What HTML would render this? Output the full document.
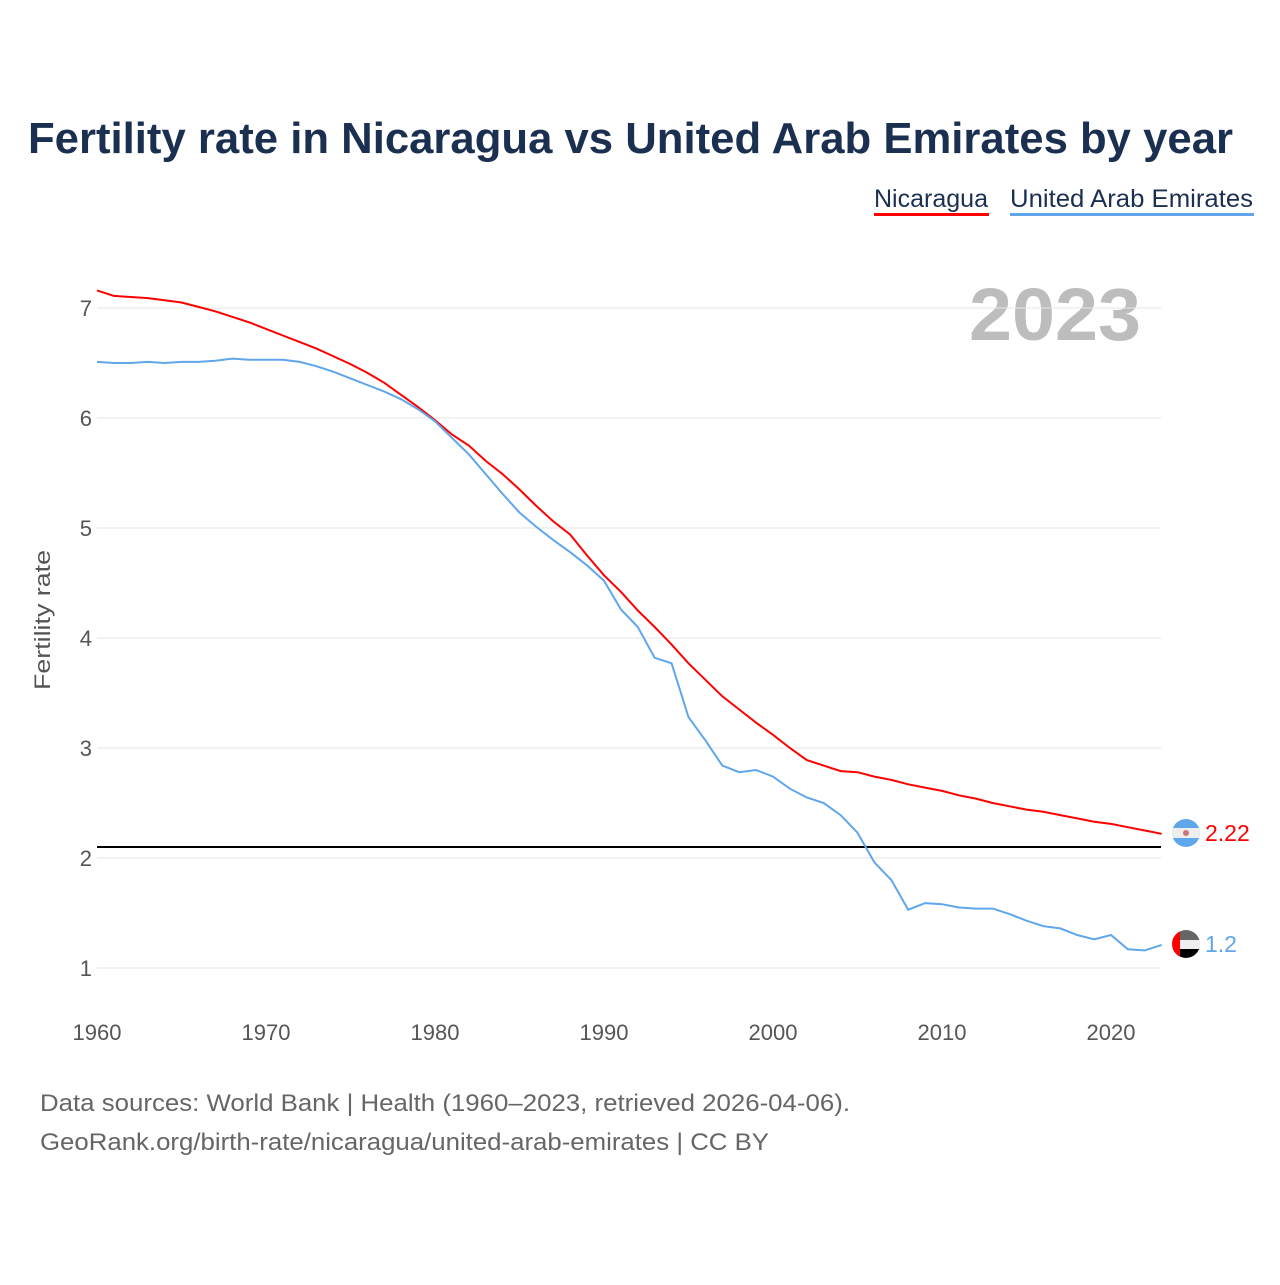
<!DOCTYPE html>
<html><head><meta charset="utf-8"><style>
body{margin:0;background:#fff;width:1280px;height:1280px;overflow:hidden;font-family:"Liberation Sans",sans-serif}
</style></head><body>
<svg id="chart" width="1280" height="1280" xmlns="http://www.w3.org/2000/svg" font-family="Liberation Sans, sans-serif">
<defs><clipPath id="c1"><circle cx="1186" cy="833" r="14"/></clipPath><clipPath id="c2"><circle cx="1186" cy="944" r="14"/></clipPath></defs>
<text x="28" y="153" font-size="44" font-weight="bold" fill="#1b3050" textLength="1205" lengthAdjust="spacingAndGlyphs">Fertility rate in Nicaragua vs United Arab Emirates by year</text>
<g><text x="874" y="207" font-size="25" fill="#1b3050" textLength="114" lengthAdjust="spacingAndGlyphs">Nicaragua</text><rect x="874" y="213" width="115" height="3" fill="#ff0000"/></g>
<g><text x="1010" y="207" font-size="25" fill="#1b3050" textLength="243" lengthAdjust="spacingAndGlyphs">United Arab Emirates</text><rect x="1010" y="213" width="244" height="3" fill="#5fa6ea"/></g>
<text x="969" y="340" font-size="74" font-weight="bold" fill="#bdbdbd" textLength="172" lengthAdjust="spacingAndGlyphs">2023</text>
<text transform="translate(50,620) rotate(-90)" font-size="22" fill="#555" text-anchor="middle" textLength="140" lengthAdjust="spacingAndGlyphs">Fertility rate</text>
<g id="grid"></g><g id="marks"></g>
<text x="40" y="1111" font-size="24" fill="#666" textLength="810" lengthAdjust="spacingAndGlyphs">Data sources: World Bank | Health (1960–2023, retrieved 2026-04-06).</text>
<text x="40" y="1150" font-size="24" fill="#666" textLength="729" lengthAdjust="spacingAndGlyphs">GeoRank.org/birth-rate/nicaragua/united-arab-emirates | CC BY</text>
</svg>
<script>
const years=[];for(let y=1960;y<=2023;y++)years.push(y);
const nicaragua=[7.16,7.11,7.10,7.09,7.07,7.05,7.01,6.97,6.92,6.87,6.81,6.75,6.69,6.63,6.56,6.49,6.41,6.32,6.21,6.10,5.98,5.85,5.75,5.61,5.49,5.35,5.20,5.06,4.94,4.75,4.57,4.42,4.25,4.10,3.94,3.77,3.62,3.47,3.35,3.23,3.12,3.00,2.89,2.84,2.79,2.78,2.74,2.71,2.67,2.64,2.61,2.57,2.54,2.50,2.47,2.44,2.42,2.39,2.36,2.33,2.31,2.28,2.25,2.22];
const uae=[6.51,6.50,6.50,6.51,6.50,6.51,6.51,6.52,6.54,6.53,6.53,6.53,6.51,6.47,6.42,6.36,6.30,6.24,6.17,6.08,5.97,5.82,5.67,5.49,5.31,5.14,5.01,4.89,4.78,4.66,4.52,4.26,4.10,3.82,3.77,3.28,3.07,2.84,2.78,2.80,2.74,2.63,2.55,2.50,2.39,2.23,1.96,1.80,1.53,1.59,1.58,1.55,1.54,1.54,1.49,1.43,1.38,1.36,1.30,1.26,1.30,1.17,1.16,1.21];
const yTicks=[1,2,3,4,5,6,7];
const xTicks=[1960,1970,1980,1990,2000,2010,2020];
const replacement=2.1;
const NS="http://www.w3.org/2000/svg";
const X=v=>97+(v-1960)*(1111-97)/60;
const Y=v=>968-(v-1)*110;
const grid=document.getElementById('grid'),marks=document.getElementById('marks');
function mk(tag,attrs,parent){const e=document.createElementNS(NS,tag);for(const k in attrs)e.setAttribute(k,attrs[k]);parent.appendChild(e);return e;}
yTicks.forEach(t=>{
  const l=mk('line',{x1:97,x2:1161,y1:Y(t),y2:Y(t),stroke:'#e6e6e6','stroke-width':1},grid);
  
  
  const tx=mk('text',{x:92,y:Y(t)+8,'font-size':22,fill:'#555','text-anchor':'end'},grid);tx.textContent=t;
  
  
});
xTicks.forEach(t=>{
  const tx=mk('text',{x:X(t),y:1040,'font-size':22,fill:'#555','text-anchor':'middle'},grid);tx.textContent=t;
  
  
});
const rl=mk('line',{x1:97,x2:1161,y1:Y(replacement),y2:Y(replacement),stroke:'#000','stroke-width':2},marks);


function series(data,color,name){
  const d=data.map((v,i)=>(i?'L':'M')+X(years[i]).toFixed(1)+' '+Y(v).toFixed(1)).join(' ');
  const p=mk('path',{d:d,fill:'none',stroke:color,'stroke-width':2},marks);
  
  
}
series(nicaragua,'#ff0000','line-nicaragua');
series(uae,'#5fa6ea','line-uae');
const nx=1186,ny=833;
const g1=mk('g',{'clip-path':'url(#c1)'},marks);


mk('rect',{x:nx-14,y:ny-14,width:28,height:28,fill:'#5fa6ea'},g1);
mk('rect',{x:nx-14,y:ny-5,width:28,height:10,fill:'#eee'},g1);
mk('circle',{cx:nx,cy:ny,r:3,fill:'#c77'},g1);
const t1=mk('text',{x:1205,y:ny+8,'font-size':23,fill:'#ff0000'},marks);t1.textContent=nicaragua[63].toFixed(2);


const ux=1186,uy=944;
const g2=mk('g',{'clip-path':'url(#c2)'},marks);


mk('rect',{x:ux-14,y:uy-14,width:28,height:10,fill:'#666'},g2);
mk('rect',{x:ux-14,y:uy-4,width:28,height:9,fill:'#eee'},g2);
mk('rect',{x:ux-14,y:uy+5,width:28,height:10,fill:'#000'},g2);
mk('rect',{x:ux-14,y:uy-14,width:8,height:28,fill:'#ff0000'},g2);
const t2=mk('text',{x:1205,y:uy+8,'font-size':23,fill:'#5fa6ea'},marks);t2.textContent=uae[63].toFixed(1);


</script>
</body></html>
